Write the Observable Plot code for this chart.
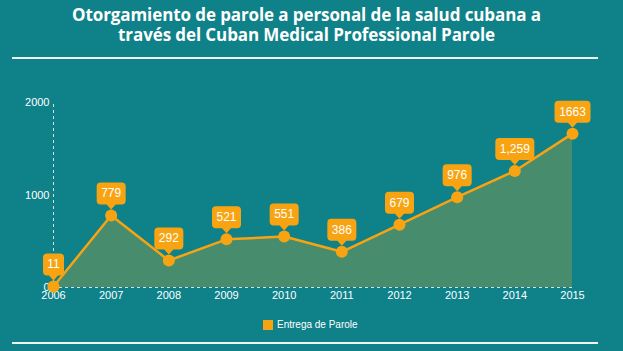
<!DOCTYPE html>
<html>
<head>
<meta charset="utf-8">
<script src="https://cdn.jsdelivr.net/npm/d3@7"></script>
<script src="https://cdn.jsdelivr.net/npm/@observablehq/plot@0.6"></script>
<style>
  html, body { margin: 0; padding: 0; }
  body { width: 623px; height: 351px; background: #0f8189; overflow: hidden; position: relative; font-family: "Liberation Sans", Arial, sans-serif; }
  #title { position: absolute; top: 5px; left: -5px; width: 623px; text-align: center; color: #fff; font-family: "Open Sans", sans-serif; font-weight: 700; font-size: 17px; line-height: 20px; letter-spacing: -0.1px; }
  .rule { position: absolute; left: 12px; width: 586px; height: 2px; background: #eef4f4; }
  #chart { position: absolute; top: 70px; left: 0; }
  #legend { position: absolute; top: 319px; left: 263px; color: #fff; font-size: 10px; display: flex; align-items: center; }
  #legend span.sw { display: inline-block; width: 10px; height: 10px; background: #f8a412; margin-right: 4px; }
</style>
</head>
<body>
<div id="title">Otorgamiento de parole a personal de la salud cubana a<br>través del Cuban Medical Professional Parole</div>
<div class="rule" style="top:57px"></div>
<div id="chart"></div>
<div id="legend"><span class="sw"></span>Entrega de Parole</div>
<div class="rule" style="top:342px"></div>
<script>
const years = [2006, 2007, 2008, 2009, 2010, 2011, 2012, 2013, 2014, 2015];
const values = [11, 779, 292, 521, 551, 386, 679, 976, 1259, 1663];
const labels = ["11", "779", "292", "521", "551", "386", "679", "976", "1,259", "1663"];
const yTicks = [0, 1000, 2000];

const data = years.map((y, i) => ({year: y, value: values[i], label: labels[i]}));

const orange = "#f8a412";
const ctx = document.createElement("canvas").getContext("2d");
ctx.font = "12px 'Liberation Sans', Arial";
function callout(w) {
  return {
    draw(c, size) {
      const h = 22, p = 5, g = 6, r = 4;
      const b = -(g + p), t = b - h, l = -w / 2, rt = w / 2;
      c.moveTo(0, -g);
      c.lineTo(-4.5, b);
      c.lineTo(l + r, b);
      c.arcTo(l, b, l, b - r, r);
      c.lineTo(l, t + r);
      c.arcTo(l, t, l + r, t, r);
      c.lineTo(rt - r, t);
      c.arcTo(rt, t, rt, t + r, r);
      c.lineTo(rt, b - r);
      c.arcTo(rt, b, rt - r, b, r);
      c.lineTo(4.5, b);
      c.closePath();
    }
  };
}
data.forEach(d => { d.sym = callout(Math.round(ctx.measureText(d.label).width + 9)); });

const chart = Plot.plot({
  width: 623,
  height: 240,
  marginLeft: 53,
  marginRight: 51,
  marginTop: 32,
  marginBottom: 23,
  style: {background: "transparent", color: "#fff", fontFamily: "'Liberation Sans', Arial, sans-serif", fontSize: "11px"},
  x: {domain: [2006, 2015], ticks: years, tickFormat: d => String(d), tickSize: 0, tickPadding: 4, label: null},
  y: {domain: [0, 2000], ticks: yTicks, tickSize: 0, tickPadding: 4, label: null, tickFormat: d => String(d)},
  marks: [
    Plot.areaY(data, {x: "year", y: "value", fill: "#4a8c6b", fillOpacity: 0.95}),
    Plot.ruleX([2006], {y1: 0, y2: 2000, stroke: "#cfe3e3", strokeDasharray: "3,3", strokeWidth: 1}),
    Plot.ruleY([0], {stroke: "#cfe3e3", strokeDasharray: "3,3", strokeWidth: 1}),
    Plot.lineY(data, {x: "year", y: "value", stroke: orange, strokeWidth: 2.5}),
    Plot.dot(data, {x: "year", y: "value", r: 6, fill: orange, stroke: "none"}),
    Plot.dot(data, {x: "year", y: "value", symbol: d => d.sym, fill: orange, stroke: "none", r: 6}),
    Plot.text(data, {x: "year", y: "value", text: "label", dy: -22, fill: "#fff", fontSize: 12, fontFamily: "'Liberation Sans', Arial, sans-serif"})
  ]
});
document.getElementById("chart").appendChild(chart);
</script>
</body>
</html>
